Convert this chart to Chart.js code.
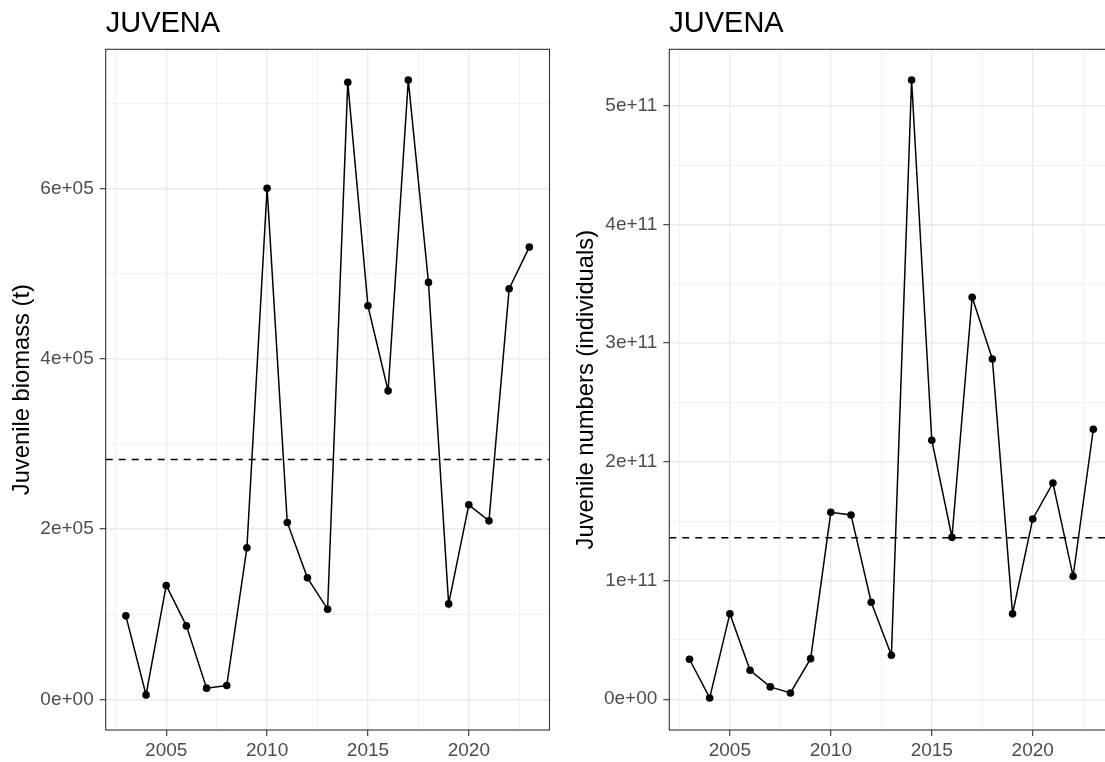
<!DOCTYPE html>
<html><head><meta charset="utf-8">
<script src="https://cdn.jsdelivr.net/npm/chart.js@4.4.1/dist/chart.umd.min.js"></script>
<style>
html,body{margin:0;padding:0;background:#fff;overflow:hidden;width:1105px;height:762px;position:relative;}
canvas{position:absolute;top:0;display:block;}
#c1{left:0;}
#c2{left:564px;}
</style></head><body>
<canvas id="c1" width="560" height="762"></canvas>
<canvas id="c2" width="560" height="762"></canvas>
<script>
// ---- data ----
const years = [2003,2004,2005,2006,2007,2008,2009,2010,2011,2012,2013,2014,2015,2016,2017,2018,2019,2020,2021,2022,2023];
const biomass = [98200,5400,133900,86400,13300,16400,178000,600000,207800,142800,106000,724400,462100,362300,727100,489600,112200,228500,209700,482100,531000];
const biomassMean = 281800;
const numbers = [3.37e10,1.1e9,7.21e10,2.44e10,1.04e10,5.3e9,3.42e10,1.575e11,1.553e11,8.17e10,3.71e10,5.217e11,2.182e11,1.365e11,3.387e11,2.867e11,7.21e10,1.519e11,1.822e11,1.036e11,2.275e11];
const numbersMean = 1.36e11;
const xMajor = [2005,2010,2015,2020];
const xLabels = ['2005','2010','2015','2020'];
const biomassMajor = [0,200000,400000,600000];
const biomassLabels = ['0e+00','2e+05','4e+05','6e+05'];
const numbersMajor = [0,1e11,2e11,3e11,4e11,5e11];
const numbersLabels = ['0e+00','1e+11','2e+11','3e+11','4e+11','5e+11'];
const titleText = 'JUVENA';
const biomassTitle = 'Juvenile biomass (t)';
const numbersTitle = 'Juvenile numbers (individuals)';

const FONT = "'Liberation Sans', Arial, sans-serif";

function withMinor(major, lo, hi){
  const step = major[1]-major[0];
  const out = [];
  const first = major[0]-step/2;
  if (first >= lo) out.push(first);
  major.forEach(v => { out.push(v); if (v+step/2 <= hi) out.push(v+step/2); });
  return out;
}
function isMajor(v, major){
  const step = major[1]-major[0];
  return major.some(m => Math.abs(m-v) < step*1e-6);
}
function labelFor(v, major, labels){
  const step = major[1]-major[0];
  const i = major.findIndex(m => Math.abs(m-v) < step*1e-6);
  return i >= 0 ? labels[i] : '';
}

const frame = {
  id: 'frame',
  afterDraw(chart){
    const {ctx, chartArea:a} = chart;
    ctx.save();
    ctx.strokeStyle = '#333333';
    ctx.lineWidth = 1.1;
    ctx.strokeRect(a.left, a.top, a.right-a.left, a.bottom-a.top);
    ctx.restore();
  }
};

function makeChart(id, values, mean, yMin, yMax, yMajor, yLabels, yTitle, axisW){
  const xGrid = withMinor(xMajor, 2002, 2024);
  const yGrid = withMinor(yMajor, yMin, yMax);
  return new Chart(document.getElementById(id), {
    type: 'line',
    data: {
      datasets: [
        {
          data: [{x:2002, y:mean},{x:2024, y:mean}],
          borderColor: '#000', borderWidth: 1.5, borderDash: [7,6],
          pointRadius: 0, fill: false
        },
        {
          data: years.map((y,i)=>({x:y, y:values[i]})),
          borderColor: '#000', borderWidth: 1.5,
          pointRadius: 3.8, pointBackgroundColor: '#000', pointBorderWidth: 0,
          pointHoverRadius: 3.8, tension: 0, fill: false
        }
      ]
    },
    options: {
      responsive: false, animation: false,
      layout: { padding: { left: 0, right: 10.5, top: 0, bottom: 0 } },
      plugins: {
        legend: { display: false },
        tooltip: { enabled: false },
        title: {
          display: true, text: titleText, align: 'start', fullSize: false,
          color: '#000', font: { family: FONT, size: 29, weight: 'normal' },
          padding: { top: 7, bottom: 7.5 }
        }
      },
      scales: {
        x: {
          type: 'linear', min: 2002, max: 2024,
          afterBuildTicks: s => { s.ticks = xGrid.map(v => ({value: v})); },
          afterFit: s => { s.height = 32; },
          ticks: {
            autoSkip: false, maxRotation: 0, color: '#4D4D4D', padding: 3,
            font: { family: FONT, size: 19 },
            callback: v => labelFor(v, xMajor, xLabels)
          },
          grid: {
            color: '#EBEBEB',
            lineWidth: c => isMajor(c.tick.value, xMajor) ? 1.4 : 0.7,
            tickColor: c => isMajor(c.tick.value, xMajor) ? '#333333' : 'rgba(0,0,0,0)',
            tickLength: 6, tickWidth: 1.1
          },
          border: { display: false }
        },
        y: {
          type: 'linear', min: yMin, max: yMax,
          afterBuildTicks: s => { s.ticks = yGrid.map(v => ({value: v})); },
          afterFit: s => { s.width = axisW; },
          ticks: {
            autoSkip: false, color: '#4D4D4D', padding: 6,
            font: { family: FONT, size: 19 },
            callback: v => labelFor(v, yMajor, yLabels)
          },
          grid: {
            color: '#EBEBEB',
            lineWidth: c => isMajor(c.tick.value, yMajor) ? 1.4 : 0.7,
            tickColor: c => isMajor(c.tick.value, yMajor) ? '#333333' : 'rgba(0,0,0,0)',
            tickLength: 6, tickWidth: 1.1
          },
          border: { display: false },
          title: {
            display: true, text: yTitle, color: '#000',
            font: { family: FONT, size: 23.75 },
            padding: { top: 8, bottom: 0 }
          }
        }
      }
    },
    plugins: [frame]
  });
}

makeChart('c1', biomass, biomassMean, -35800, 763200, biomassMajor, biomassLabels, biomassTitle, 105.7);
makeChart('c2', numbers, numbersMean, -0.259e11, 5.476e11, numbersMajor, numbersLabels, numbersTitle, 105.3);
</script>
</body></html>
